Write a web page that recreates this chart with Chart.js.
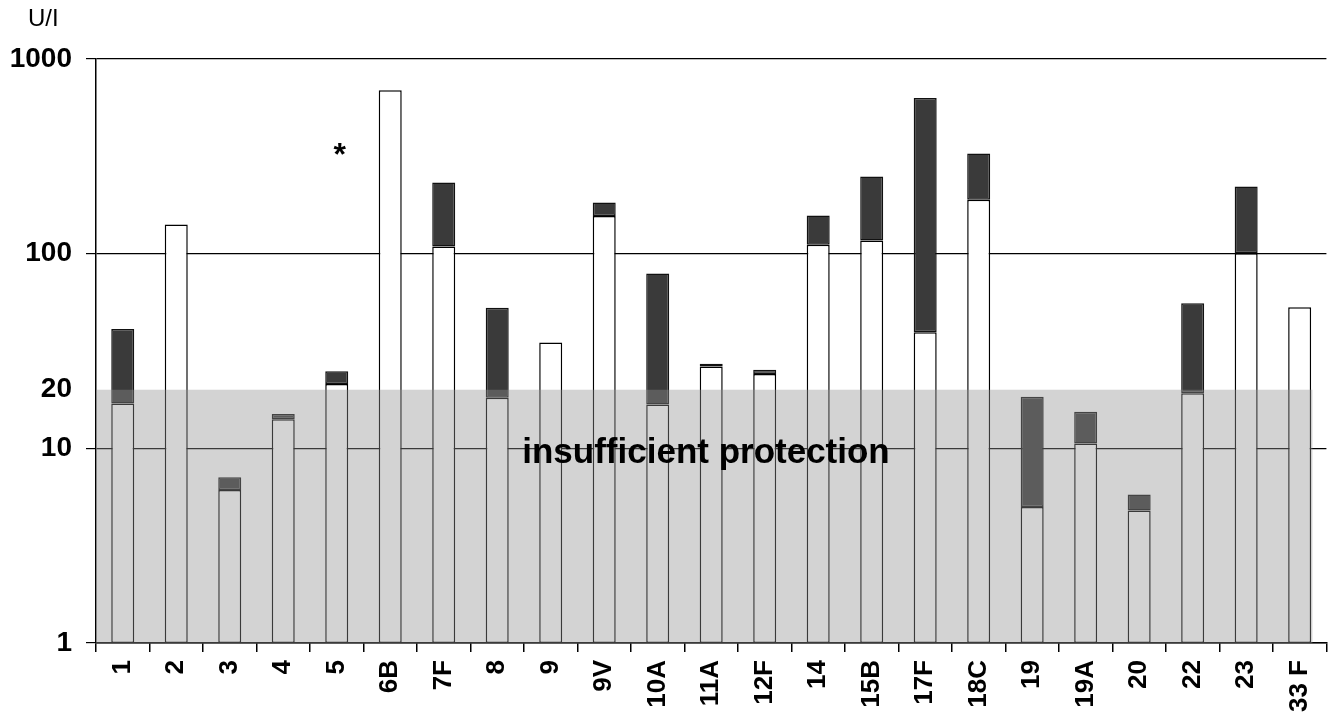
<!DOCTYPE html>
<html>
<head>
<meta charset="utf-8">
<script src="https://cdn.jsdelivr.net/npm/chart.js@4.4.0/dist/chart.umd.min.js"></script>
<style>
  html, body { margin: 0; padding: 0; background: #fff; }
  canvas { display: block; }
</style>
</head>
<body>
<canvas id="myBarChart" width="1339" height="719"></canvas>
<script>
// serotypes on the x axis
const categories = ['1', '2', '3', '4', '5', '6B', '7F', '8', '9', '9V', '10A', '11A', '12F', '14', '15B', '17F', '18C', '19', '19A', '20', '22', '23', '33 F'];
// top of the white part of each bar (U/l)
const whiteTops = [17, 141, 6.1, 14.1, 21.4, 690, 109, 18.2, 35, 156, 16.8, 26.3, 24.1, 111, 117, 39.5, 189, 5.0, 10.6, 4.8, 19.2, 100.5, 53];
// top of the dark part, null where there is none
const darkTops = [41, null, 7.1, 15, 24.9, null, 232, 52.7, null, 183, 79, 27.2, 25.3, 157, 249, 630, 327, 18.4, 15.4, 5.8, 55.6, 221, null];
const yTicks = [1, 10, 20, 100, 1000];
const gridValues = [1, 10, 100, 1000];
const protectionLimit = 20;
const asteriskAt = { category: '5', value: 350 };

const fontFamily = "'Liberation Sans', Arial, sans-serif";

const overlayPlugin = {
    id: 'overlay',
    afterDatasetsDraw(chart) {
        const { ctx, chartArea, scales } = chart;
        const yTop = scales.y.getPixelForValue(protectionLimit);
        const yBottom = scales.y.getPixelForValue(1);
        ctx.save();
        ctx.fillStyle = 'rgba(145,145,145,0.4)';
        ctx.fillRect(chartArea.left, yTop, chartArea.right - chartArea.left - 14, yBottom - yTop);

        ctx.fillStyle = '#000';
        ctx.font = 'bold 35px ' + fontFamily;
        ctx.textAlign = 'center';
        ctx.textBaseline = 'middle';
        ctx.fillText('insufficient protection', 706, 453);

        ctx.font = 'bold 32px ' + fontFamily;
        const ax = scales.x.getPixelForValue(categories.indexOf(asteriskAt.category));
        const ay = scales.y.getPixelForValue(asteriskAt.value);
        ctx.fillText('*', ax + 3, ay + 8);

        ctx.font = '24px ' + fontFamily;
        ctx.textAlign = 'left';
        ctx.fillText('U/I', 28, 19);
        ctx.restore();
    }
};

const ctx = document.getElementById('myBarChart');
new Chart(ctx, {
    type: 'bar',
    data: {
        labels: categories,
        datasets: [
            {
                label: 'white',
                data: whiteTops.map(v => [1, v]),
                backgroundColor: '#ffffff',
                borderColor: '#000',
                borderWidth: 1.5,
                borderSkipped: false,
                grouped: false,
                order: 2
            },
            {
                label: 'dark',
                data: darkTops.map((v, i) => v === null ? null : [whiteTops[i], v]),
                backgroundColor: '#3a3a3a',
                borderColor: '#111',
                borderWidth: 1.5,
                borderSkipped: false,
                grouped: false,
                order: 1
            }
        ]
    },
    options: {
        responsive: false,
        animation: false,
        barPercentage: 0.43,
        categoryPercentage: 1,
        layout: { padding: { top: 59, right: 6, left: 0, bottom: 0 } },
        plugins: {
            legend: { display: false },
            tooltip: { enabled: false }
        },
        scales: {
            x: {
                grid: { offset: true, drawOnChartArea: false, tickLength: 9, color: '#000', lineWidth: 1.5 },
                border: { color: '#000', width: 1.5 },
                ticks: {
                    color: '#000',
                    font: { family: fontFamily, weight: 'bold', size: 26 },
                    minRotation: 90,
                    maxRotation: 90,
                    autoSkip: false,
                    padding: 8
                },
                afterFit: s => { s.height = 76; }
            },
            y: {
                type: 'logarithmic',
                min: 1,
                max: 1000,
                afterBuildTicks: s => { s.ticks = yTicks.map(v => ({ value: v })); },
                ticks: {
                    color: '#000',
                    font: { family: fontFamily, weight: 'bold', size: 28 },
                    padding: 14,
                    callback: v => String(v)
                },
                grid: {
                    color: c => (c.tick && gridValues.includes(c.tick.value)) ? '#000' : 'rgba(0,0,0,0)',
                    lineWidth: 1.2,
                    tickLength: 10
                },
                border: { color: '#000', width: 1.5 },
                afterFit: s => { s.width = 96; }
            }
        }
    },
    plugins: [overlayPlugin]
});
</script>
</body>
</html>
